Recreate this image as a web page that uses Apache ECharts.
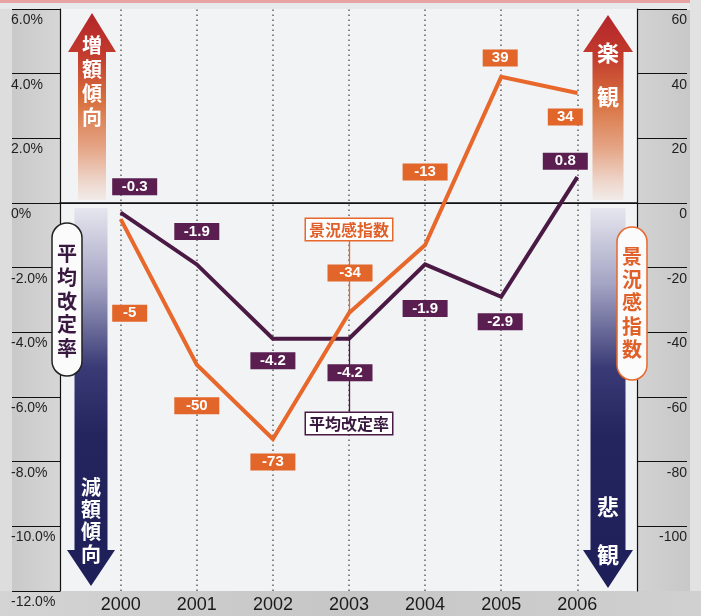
<!DOCTYPE html>
<html>
<head>
<meta charset="utf-8">
<script src="https://cdn.jsdelivr.net/npm/echarts@6/dist/echarts.min.js"></script>
<style>
  html, body { margin: 0; padding: 0; background: #e8e9ea; }
  #chart { width: 701px; height: 616px; }
</style>
</head>
<body>
<div id="chart"></div>
<script>
// ---- data ----
const years = [2000, 2001, 2002, 2003, 2004, 2005, 2006];
const revisionRate = [-0.3, -1.9, -4.2, -4.2, -1.9, -2.9, 0.8];   // 平均改定率 (%)
const sentimentIndex = [-5, -50, -73, -34, -13, 39, 34];          // 景況感指数
const rateTicks = [6, 4, 2, 0, -2, -4, -6, -8, -10, -12];
const indexTicks = [60, 40, 20, 0, -20, -40, -60, -80, -100];

// ---- layout of value boxes (pixel offsets from each point) ----
const rateLabelOffset = [[14, -26], [0, -33], [0, 22], [1, 34], [0, 44], [-1, 25], [-12, -16]];
const indexLabelOffset = [[9, 94], [0, 41], [0, 23], [1, -40], [0, -73], [-1, -19], [-12, 24]];

const PURPLE = '#4b1a44';
const PURPLE_BOX = '#5a1f50';
const ORANGE = '#e8672b';
const ORANGE_BOX = '#e2662a';
const SANS = "'Liberation Sans',Arial,sans-serif";
const JP = "'Noto Sans CJK JP','Noto Sans CJK SC',sans-serif";

const chart = echarts.init(document.getElementById('chart'), null, { renderer: 'canvas' });

const G = echarts.graphic.LinearGradient;
const upFill = () => new G(0, 0, 0, 1, [
  { offset: 0, color: '#b3252a' },
  { offset: 0.22, color: '#c23b2d' },
  { offset: 0.47, color: '#d8713f' },
  { offset: 0.72, color: '#e5a586' },
  { offset: 0.9, color: '#eed6cb' },
  { offset: 1, color: '#f1ebe9' }
]);
const downFill = () => new G(0, 0, 0, 1, [
  { offset: 0, color: '#e6e6ef' },
  { offset: 0.2, color: '#a4a4c4' },
  { offset: 0.42, color: '#3a3b76' },
  { offset: 0.6, color: '#24255f' },
  { offset: 1, color: '#1e1f58' }
]);

function arrowUp(cx, tip, headY, headHalf, shaftHalf, bottom) {
  return [[cx, tip], [cx + headHalf, headY], [cx + shaftHalf, headY], [cx + shaftHalf, bottom],
          [cx - shaftHalf, bottom], [cx - shaftHalf, headY], [cx - headHalf, headY]];
}
function arrowDown(cx, tip, headY, headHalf, shaftHalf, top) {
  return [[cx - shaftHalf, top], [cx + shaftHalf, top], [cx + shaftHalf, headY], [cx + headHalf, headY],
          [cx, tip], [cx - headHalf, headY], [cx - shaftHalf, headY]];
}
function vText(text, x, y, size, lh, fill) {
  return {
    type: 'text', z: 50,
    style: { text: text.split('').join('\n'), x: x, y: y, align: 'center', verticalAlign: 'top',
             fill: fill, fontSize: size, fontWeight: 'bold', fontFamily: JP, lineHeight: lh }
  };
}

const graphics = [
  // panels behind the plot
  { type: 'rect', z: -10, shape: { x: 0, y: 0, width: 701, height: 616 }, style: { fill: '#e8e9ea' } },
  { type: 'rect', z: -10, shape: { x: 0, y: 0, width: 701, height: 3 }, style: { fill: '#e6a3a1' } },
  { type: 'rect', z: -10, shape: { x: 12, y: 9, width: 48, height: 582 },
    style: { fill: new G(0, 0, 1, 0, [{ offset: 0, color: '#c9c9c9' }, { offset: 1, color: '#d6d6d6' }]) } },
  { type: 'rect', z: -10, shape: { x: 0, y: 9, width: 12, height: 582 }, style: { fill: '#dddddd' } },
  { type: 'rect', z: -10, shape: { x: 637, y: 10, width: 53, height: 581 },
    style: { fill: new G(0, 0, 1, 0, [{ offset: 0, color: '#d2d2d2' }, { offset: 1, color: '#c8c8c8' }]) } },
  { type: 'rect', z: -10, shape: { x: 690, y: 0, width: 11, height: 616 }, style: { fill: '#e2e2e2' } },
  { type: 'rect', z: -10, shape: { x: 0, y: 591, width: 701, height: 25 },
    style: { fill: new G(0, 0, 1, 0, [{ offset: 0, color: '#d4d4d4' }, { offset: 0.5, color: '#c6c6c6' }, { offset: 1, color: '#d0d0d0' }]) } },
  { type: 'rect', z: -10, shape: { x: 60, y: 9, width: 577, height: 582 }, style: { fill: '#f1f3f5' } },

  // left side: direction arrows and caption
  { type: 'polygon', z: 40, shape: { points: arrowUp(92, 13, 52, 24, 14, 200) }, style: { fill: upFill() } },
  { type: 'polygon', z: 40, shape: { points: arrowDown(91, 586, 550, 24, 16.5, 208) }, style: { fill: downFill() } },
  vText('増額傾向', 92, 34, 20, 23.7, '#ffffff'),
  vText('減額傾向', 91, 476, 20, 22.3, '#ffffff'),
  { type: 'rect', z: 45, shape: { x: 52, y: 223, width: 30, height: 153, r: 15 },
    style: { fill: '#fbfbfb', stroke: '#222222', lineWidth: 1.5 } },
  vText('平均改定率', 67, 242, 20, 23.6, '#3a1940'),

  // right side: direction arrows and caption
  { type: 'polygon', z: 40, shape: { points: arrowUp(608, 15, 52, 25, 15.5, 200) }, style: { fill: upFill() } },
  { type: 'polygon', z: 40, shape: { points: arrowDown(608, 588, 550, 25, 17.5, 208) }, style: { fill: downFill() } },
  { type: 'text', z: 50, style: { text: '楽\n観', x: 608, y: 31, align: 'center', verticalAlign: 'top',
      fill: '#fff', fontSize: 22, fontWeight: 'bold', fontFamily: JP, lineHeight: 44 } },
  { type: 'text', z: 50, style: { text: '悲\n観', x: 608, y: 483, align: 'center', verticalAlign: 'top',
      fill: '#fff', fontSize: 22, fontWeight: 'bold', fontFamily: JP, lineHeight: 48 } },
  { type: 'rect', z: 45, shape: { x: 617, y: 227, width: 30, height: 153, r: 15 },
    style: { fill: '#fbfbfb', stroke: ORANGE, lineWidth: 1.5 } },
  vText('景況感指数', 632, 244.5, 20, 23.3, '#e0602a')
];

const boxLabel = (bg, fmt) => ({
  show: true, position: 'inside', formatter: fmt,
  backgroundColor: bg, color: '#ffffff', fontFamily: SANS, fontWeight: 'bold',
  fontSize: 15, lineHeight: 15, width: 41, align: 'center', padding: [1, 2]
});

const calloutLabel = (text, color, border) => ({
  show: true, position: 'inside', formatter: text,
  color: color, fontFamily: JP, fontWeight: 'bold', fontSize: 16, lineHeight: 19,
  backgroundColor: '#ffffff', borderColor: border, borderWidth: 1.5, padding: [1, 3]
});

const option = {
  backgroundColor: 'transparent',
  animation: false,
  graphic: graphics,
  grid: { left: 60, right: 64, top: 9, bottom: 25, containLabel: false },
  xAxis: {
    type: 'value',
    min: 1999.2024, max: 2006.7845,
    axisLine: { show: true, lineStyle: { color: '#111', width: 1.5 } },
    axisTick: { show: false },
    splitLine: { show: false },
    axisLabel: {
      customValues: years, formatter: v => String(v), margin: 5,
      color: '#1a1a1a', fontSize: 18, fontFamily: SANS
    }
  },
  yAxis: [
    {
      type: 'value', position: 'left', min: -12, max: 6, interval: 2,
      axisLine: { show: true, onZero: false, lineStyle: { color: '#111', width: 1.2 } },
      axisTick: { show: true, inside: false, length: 48, customValues: rateTicks, lineStyle: { color: '#111', width: 1.2 } },
      splitLine: { show: false },
      axisLabel: {
        customValues: rateTicks,
        formatter: v => (v === 0 ? '0%' : v.toFixed(1) + '%'),
        align: 'left', verticalAlign: 'top', margin: 49, padding: [4, 0, 0, 0],
        color: '#1f1f1f', fontSize: 14, fontFamily: SANS
      }
    },
    {
      type: 'value', position: 'right', min: -120, max: 60, interval: 20,
      axisLine: { show: true, onZero: false, lineStyle: { color: '#111', width: 1.2 } },
      axisTick: { show: true, inside: false, length: 50, customValues: indexTicks, lineStyle: { color: '#111', width: 1.2 } },
      splitLine: { show: false },
      axisLabel: {
        customValues: indexTicks,
        formatter: v => String(v),
        align: 'right', verticalAlign: 'top', margin: 50, padding: [4, 0, 0, 0],
        color: '#1f1f1f', fontSize: 14, fontFamily: SANS
      }
    }
  ],
  series: [
    {
      // dotted year guides, the zero line and the rate callout stem
      name: 'guides', type: 'line', yAxisIndex: 0, data: [], z: 1, silent: true,
      markLine: {
        z: 1, silent: true, symbol: 'none', label: { show: false }, animation: false,
        data: years.map(y => ({ xAxis: y, lineStyle: { color: '#6a6a6a', width: 1.6, type: [1.6, 3.4] } }))
          .concat([
            { yAxis: 0, lineStyle: { color: '#111', width: 1, type: 'solid' } },
            [{ coord: [2003, -4.2], lineStyle: { color: PURPLE, width: 1.3, type: 'solid' } }, { coord: [2003, -6.48] }]
          ])
      }
    },
    {
      // stem of the index callout
      name: 'indexGuide', type: 'line', yAxisIndex: 1, data: [], z: 1, silent: true,
      markLine: {
        z: 1, silent: true, symbol: 'none', label: { show: false }, animation: false,
        lineStyle: { color: ORANGE, width: 1.3, type: 'solid' },
        data: [[{ coord: [2003, -11.7] }, { coord: [2003, -34] }]]
      }
    },
    {
      name: '平均改定率', type: 'line', yAxisIndex: 0, z: 3,
      data: years.map((y, i) => ({ value: [y, revisionRate[i]], label: { offset: rateLabelOffset[i] } })),
      symbol: 'circle', symbolSize: 1, showSymbol: true,
      lineStyle: { color: PURPLE, width: 4, join: 'miter' }, itemStyle: { color: PURPLE },
      label: boxLabel(PURPLE_BOX, p => p.value[1].toFixed(1)),
      markPoint: {
        silent: true, symbol: 'circle', symbolSize: 1, itemStyle: { color: 'rgba(0,0,0,0)' },
        data: [{ coord: [2003, -6.82], value: '平均改定率' }],
        label: calloutLabel('平均改定率', '#3a1940', PURPLE)
      }
    },
    {
      name: '景況感指数', type: 'line', yAxisIndex: 1, z: 4,
      data: years.map((y, i) => ({
        value: [y, sentimentIndex[i]],
        label: Object.assign({ offset: indexLabelOffset[i] }, String(sentimentIndex[i]).length < 3 ? { width: 31 } : {})
      })),
      symbol: 'circle', symbolSize: 1, showSymbol: true,
      lineStyle: { color: ORANGE, width: 4, join: 'miter' }, itemStyle: { color: ORANGE },
      label: boxLabel(ORANGE_BOX, p => String(p.value[1])),
      markPoint: {
        silent: true, symbol: 'circle', symbolSize: 1, itemStyle: { color: 'rgba(0,0,0,0)' },
        data: [{ coord: [2003, -8.2], value: '景況感指数' }],
        label: calloutLabel('景況感指数', '#e0602a', ORANGE)
      }
    }
  ]
};

chart.setOption(option);
</script>
</body>
</html>
